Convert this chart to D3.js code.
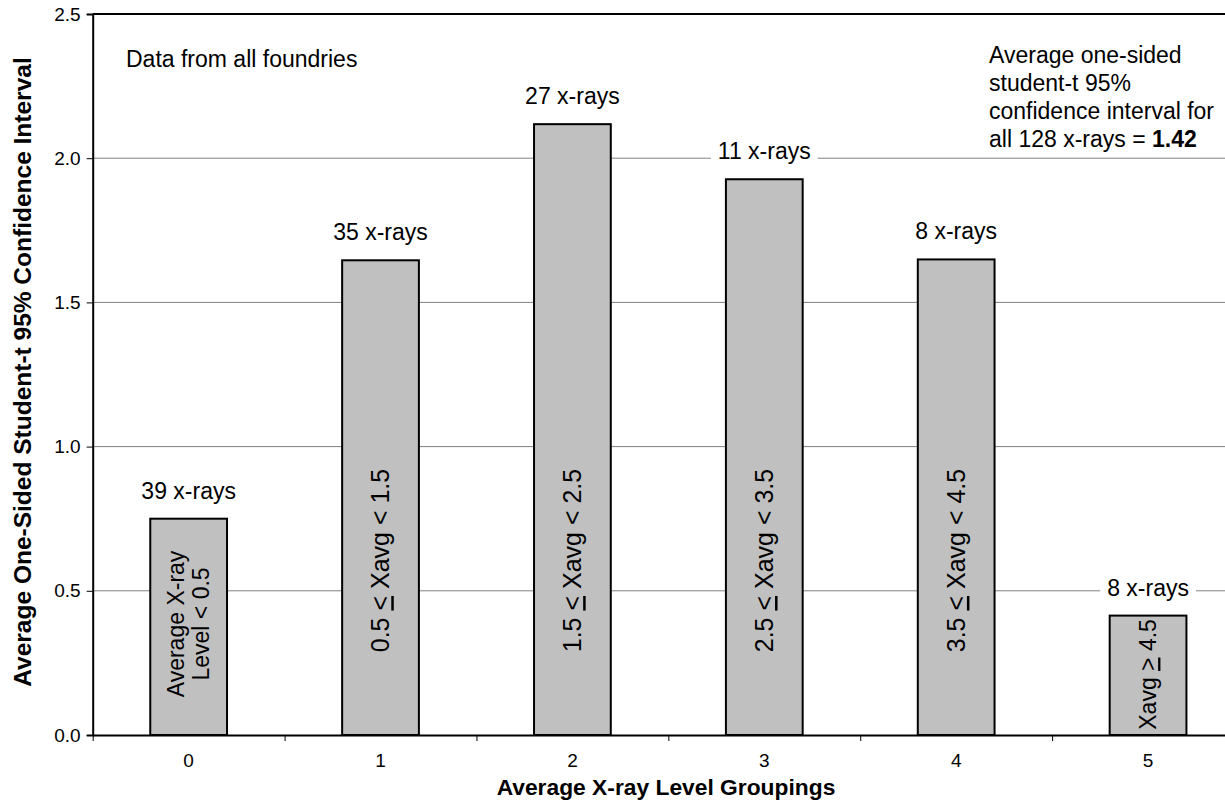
<!DOCTYPE html>
<html>
<head>
<meta charset="utf-8">
<script src="https://cdn.jsdelivr.net/npm/d3@7"></script>
<style>
  body { margin: 0; background: #fff; }
  svg { display: block; }
  text { font-family: Arial, "Liberation Sans", sans-serif; fill: #000; }
</style>
</head>
<body>
<div id="chart"></div>
<script>
// chart data
const categories = [0, 1, 2, 3, 4, 5];
const values = [0.75, 1.646, 2.118, 1.927, 1.649, 0.414];
const countLabels = ["39 x-rays", "35 x-rays", "27 x-rays", "11 x-rays", "8 x-rays", "8 x-rays"];
const rangeLabels = [
    ["Average X-ray", "Level < 0.5"],
    ["0.5 ≤ Xavg < 1.5"],
    ["1.5 ≤ Xavg < 2.5"],
    ["2.5 ≤ Xavg < 3.5"],
    ["3.5 ≤ Xavg < 4.5"],
    ["Xavg ≥ 4.5"]
];
// value (in y units) where the rotated label is centred, and its size
const rangeLabelAt = [0.385, 0.605, 0.605, 0.605, 0.605, 0.21];
const rangeLabelSize = [23, 25, 25, 25, 25, 23];
const yTicks = [0, 0.5, 1.0, 1.5, 2.0, 2.5];
const noteLines = ["Average one-sided", "student-t 95%", "confidence interval for", "all 128 x-rays = "];
const noteValue = "1.42";

const width = 1225, height = 812;
const margin = {top: 14, left: 92.7, bottom: 77};
const plotRight = 1244;   // plot box runs past the right edge of the picture

const svg = d3.select("#chart").append("svg")
    .attr("width", width)
    .attr("height", height);

const x = d3.scaleBand()
    .domain(categories)
    .range([margin.left, plotRight])
    .paddingInner(0.6)
    .paddingOuter(0.3);

// continuous version of the x axis, used for the tick marks between groups
const xPos = d3.scaleLinear()
    .domain([-0.5, categories.length - 0.5])
    .range([margin.left, plotRight]);

const y = d3.scaleLinear()
    .domain([0, 2.5])
    .range([height - margin.bottom, margin.top]);

// gridlines
svg.append("g")
    .selectAll("line")
    .data(yTicks.filter(d => d > 0 && d < 2.5))
    .join("line")
    .attr("x1", margin.left).attr("x2", plotRight)
    .attr("y1", d => y(d)).attr("y2", d => y(d))
    .attr("stroke", "#808080")
    .attr("stroke-width", 1);

// top border of plot
svg.append("line")
    .attr("x1", margin.left).attr("x2", plotRight)
    .attr("y1", y(2.5)).attr("y2", y(2.5))
    .attr("stroke", "#000").attr("stroke-width", 2);

// bars
svg.append("g")
    .selectAll("rect")
    .data(categories)
    .join("rect")
    .attr("x", d => x(d))
    .attr("y", (d, i) => y(values[i]))
    .attr("width", x.bandwidth())
    .attr("height", (d, i) => y(0) - y(values[i]))
    .attr("fill", "#c0c0c0")
    .attr("stroke", "#000")
    .attr("stroke-width", 2);

// y axis
const yAxis = svg.append("g")
    .attr("transform", `translate(${margin.left},0)`)
    .call(d3.axisLeft(y).tickValues(yTicks).tickFormat(d3.format(".1f")).tickSize(6).tickPadding(6));
yAxis.select(".domain").attr("stroke-width", 2);
yAxis.selectAll("text").style("font-size", "19px").attr("font-family", null);

// x axis: tick marks between groups
const xAxis = svg.append("g")
    .attr("transform", `translate(0,${y(0)})`)
    .call(d3.axisBottom(xPos)
        .tickValues(d3.range(-0.5, categories.length, 1))
        .tickFormat("")
        .tickSize(6)
        .tickSizeOuter(0));
xAxis.select(".domain").attr("stroke-width", 2);

// x axis: category labels
const xLabels = svg.append("g")
    .attr("transform", `translate(0,${y(0)})`)
    .call(d3.axisBottom(x).tickSize(0).tickPadding(19));
xLabels.select(".domain").remove();
xLabels.selectAll("text").style("font-size", "19px").attr("font-family", null);

// count labels above bars, with a white knock-out behind them
const counts = svg.append("g")
    .selectAll("g")
    .data(categories)
    .join("g");
counts.append("text")
    .attr("x", d => x(d) + x.bandwidth() / 2)
    .attr("y", (d, i) => y(values[i]) - 20)
    .attr("text-anchor", "middle")
    .style("font-size", "23px")
    .text((d, i) => countLabels[i]);
counts.each(function () {
    let g = d3.select(this);
    let bb = g.select("text").node().getBBox();
    g.insert("rect", "text")
        .attr("x", bb.x - 7)
        .attr("y", bb.y)
        .attr("width", bb.width + 14)
        .attr("height", bb.height)
        .attr("fill", "#fff");
});

// rotated range labels inside bars; ≤ and ≥ drawn as underlined < and >
svg.append("g")
    .selectAll("text")
    .data(categories)
    .join("text")
    .attr("transform", (d, i) => `translate(${x(d) + x.bandwidth() / 2},${y(rangeLabelAt[i])}) rotate(-90)`)
    .attr("text-anchor", "middle")
    .style("font-size", (d, i) => rangeLabelSize[i] + "px")
    .each(function (d, i) {
        let t = d3.select(this);
        let lines = rangeLabels[i];
        lines.forEach((line, j) => {
            let dy = (j - (lines.length - 1) / 2) * 1.1;
            let tl = t.append("tspan")
                .attr("x", 0)
                .attr("dy", j === 0 ? (dy + 0.35) + "em" : "1.1em");
            let parts = line.split(/([≤≥])/);
            parts.forEach(p => {
                if (p === "≤" || p === "≥") {
                    tl.append("tspan")
                        .style("text-decoration", "underline")
                        .text(p === "≤" ? "<" : ">");
                } else if (p.length) {
                    tl.append("tspan").text(p);
                }
            });
        });
    });

// annotations
svg.append("text")
    .attr("x", 126)
    .attr("y", 67)
    .style("font-size", "23px")
    .text("Data from all foundries");

const note = svg.append("text")
    .attr("x", 989)
    .attr("y", 63)
    .style("font-size", "23px");
noteLines.forEach((line, i) => {
    note.append("tspan")
        .attr("x", 989)
        .attr("dy", i === 0 ? 0 : 28)
        .text(line);
    if (i === noteLines.length - 1) {
        note.append("tspan").style("font-weight", "bold").text(noteValue);
    }
});

// axis titles
svg.append("text")
    .attr("x", 666)
    .attr("y", 795)
    .attr("text-anchor", "middle")
    .style("font-size", "22.8px")
    .style("font-weight", "bold")
    .text("Average X-ray Level Groupings");

svg.append("text")
    .attr("transform", `translate(31,372) rotate(-90)`)
    .attr("text-anchor", "middle")
    .style("font-size", "24.5px")
    .style("font-weight", "bold")
    .text("Average One-Sided Student-t 95% Confidence Interval");
</script>
</body>
</html>
